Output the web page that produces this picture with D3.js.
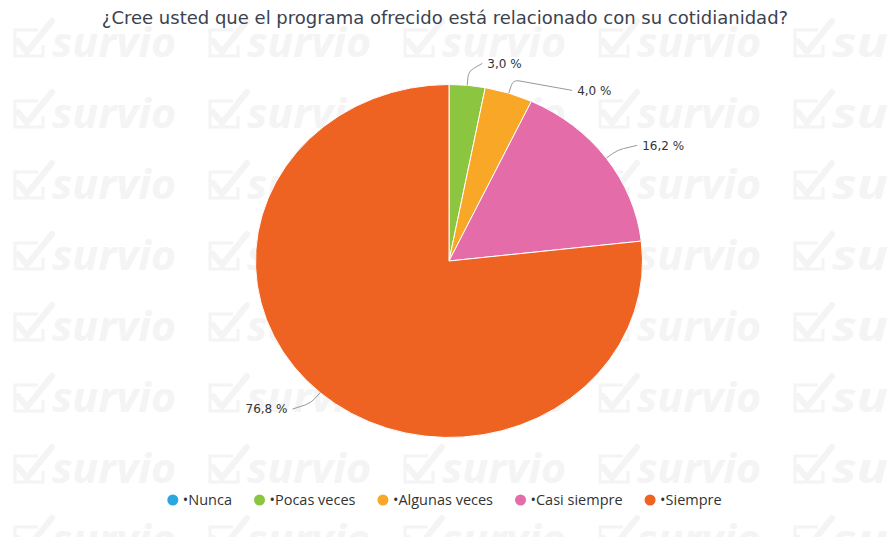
<!DOCTYPE html>
<html>
<head>
<meta charset="utf-8">
<script src="https://cdn.jsdelivr.net/npm/d3@7"></script>
<style>
  body { margin: 0; background: #fff; }
  svg { display: block; }
</style>
</head>
<body>
<div id="chart"></div>
<script>
const title = "¿Cree usted que el programa ofrecido está relacionado con su cotidianidad?";
const categories = ["•Nunca", "•Pocas veces", "•Algunas veces", "•Casi siempre", "•Siempre"];
const values = [0, 3.0, 4.0, 16.2, 76.8];
const colors = ["#2ba6df", "#8cc540", "#f9a727", "#e46ca9", "#ee6222"];

const width = 889, height = 537;
const cx = 449, cy = 261;
const rx = 193.5, ry = 176.5;
const labelDist = 22, labelPad = 18, minGap = 27;

const svg = d3.select("#chart").append("svg")
    .attr("width", width)
    .attr("height", height);

// watermark tiles
const wmColor = "#f4f4f4";
const wmCols = d3.range(5).map(i => 12 + i * 195);
const wmRows = d3.range(8).map(i => 57 + i * 71);
const wm = svg.append("g").attr("fill", "none");
wmRows.forEach(y => {
    wmCols.forEach(x => {
        const t = wm.append("g").attr("transform", `translate(${x},${y})`);
        t.append("path")
            .attr("d", "M26,-27 L3,-27 L3,-1 L31,-1 L31,-12")
            .attr("stroke", wmColor)
            .attr("stroke-width", 3);
        t.append("path")
            .attr("d", "M6,-16 L15,-5 L40,-36")
            .attr("stroke", wmColor)
            .attr("stroke-width", 6)
            .attr("stroke-linecap", "round");
        t.append("text")
            .attr("x", 40)
            .attr("y", 0)
            .attr("fill", wmColor)
            .attr("font-family", "'Open Sans', sans-serif")
            .attr("font-weight", "bold")
            .attr("font-style", "italic")
            .attr("font-size", 42)
            .attr("textLength", Math.min(124, width - x - 41))
            .attr("lengthAdjust", "spacingAndGlyphs")
            .text(x + 170 > width ? "su" : "survio");
    });
});

// title
svg.append("text")
    .attr("x", width / 2 + 0.5)
    .attr("y", 24)
    .attr("text-anchor", "middle")
    .attr("fill", "#3b4250")
    .attr("font-family", "'DejaVu Sans', sans-serif")
    .attr("font-size", 18)
    .text(title);

// pie
const data = categories.map((c, i) => ({ name: c, value: values[i], color: colors[i] }));
const pie = d3.pie().sort(null).value(d => d.value);
const arcs = pie(data);
const arc = d3.arc().innerRadius(0).outerRadius(ry);

svg.append("g")
    .attr("transform", `translate(${cx},${cy}) scale(${rx / ry},1)`)
    .selectAll("path")
    .data(arcs.filter(d => d.data.value > 0))
    .enter()
    .append("path")
    .attr("d", arc)
    .attr("fill", d => d.data.color)
    .attr("stroke", "#fff")
    .attr("stroke-width", 1)
    .attr("vector-effect", "non-scaling-stroke");

// data labels
const lab = arcs.filter(d => d.data.value > 0).map(d => {
    const a = (d.startAngle + d.endAngle) / 2;
    const side = Math.sin(a) >= 0 ? 1 : -1;
    return {
        d, a, side,
        edge: [cx + rx * Math.sin(a), cy - ry * Math.cos(a)],
        brk: [cx + (rx + 14) * Math.sin(a), cy - (ry + 14) * Math.cos(a)],
        y: cy - (ry + labelDist) * Math.cos(a)
    };
});

// push overlapping labels down, per side
[1, -1].forEach(s => {
    const group = lab.filter(l => l.side === s).sort((a, b) => a.y - b.y);
    for (let i = 1; i < group.length; i++) {
        if (group[i].y - group[i - 1].y < minGap) group[i].y = group[i - 1].y + minGap;
    }
});

lab.forEach(l => {
    const t = Math.min(1, Math.abs(l.y - cy) / (ry + labelDist));
    l.x = cx + l.side * (rx + labelDist) * Math.sqrt(1 - t * t);
    l.tx = l.x + l.side * labelPad;
    l.end = [l.tx - l.side * 5, l.y];
});

function connector(l) {
    const [x0, y0] = l.edge, [x1, y1] = l.brk, [x2, y2] = l.end;
    const r = 6;
    const d1 = Math.hypot(x1 - x0, y1 - y0), d2 = Math.hypot(x2 - x1, y2 - y1);
    const p1 = [x1 - (x1 - x0) / d1 * Math.min(r, d1 / 2), y1 - (y1 - y0) / d1 * Math.min(r, d1 / 2)];
    const p2 = [x1 + (x2 - x1) / d2 * Math.min(r, d2 / 2), y1 + (y2 - y1) / d2 * Math.min(r, d2 / 2)];
    return `M${x0},${y0}L${p1[0]},${p1[1]}Q${x1},${y1} ${p2[0]},${p2[1]}L${x2},${y2}`;
}

const labels = svg.append("g");
labels.selectAll("path")
    .data(lab)
    .enter()
    .append("path")
    .attr("d", connector)
    .attr("fill", "none")
    .attr("stroke", "#999")
    .attr("stroke-width", 1);

labels.selectAll("text")
    .data(lab)
    .enter()
    .append("text")
    .attr("x", l => l.tx)
    .attr("y", l => l.y)
    .attr("dy", "0.35em")
    .attr("text-anchor", l => l.side > 0 ? "start" : "end")
    .attr("fill", "#333")
    .attr("font-family", "'DejaVu Sans', sans-serif")
    .attr("font-size", 12)
    .text(l => d3.format(".1f")(l.d.data.value).replace(".", ",") + " %");

// legend
const legendY = 500;
const legend = svg.append("g");
const items = legend.selectAll("g")
    .data(data)
    .enter()
    .append("g");

items.append("circle")
    .attr("r", 5.5)
    .attr("cx", 0)
    .attr("cy", legendY)
    .attr("fill", d => d.color);

items.append("text")
    .attr("x", 10)
    .attr("y", legendY)
    .attr("dy", "0.35em")
    .attr("fill", "#333")
    .attr("font-family", "'Open Sans', sans-serif")
    .attr("font-size", 14.5)
    .text(d => d.name);

const widths = [];
items.select("text").each(function() { widths.push(this.getComputedTextLength()); });
const itemGap = 22;
const total = d3.sum(widths, w => w + 15.5) + itemGap * (widths.length - 1);
let xPos = width / 2 - total / 2 + 5.5;
items.attr("transform", (d, i) => {
    const x = xPos;
    xPos += widths[i] + 15.5 + itemGap;
    return `translate(${x},0)`;
});
</script>
</body>
</html>
